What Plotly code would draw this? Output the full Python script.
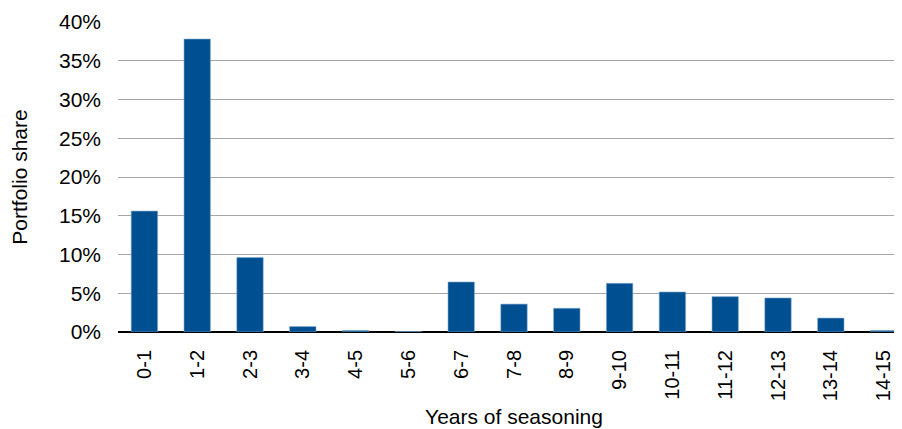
import plotly.graph_objects as go

categories = ["0-1", "1-2", "2-3", "3-4", "4-5", "5-6", "6-7", "7-8", "8-9",
              "9-10", "10-11", "11-12", "12-13", "13-14", "14-15"]
share = [0.156, 0.378, 0.096, 0.007, 0.002, 0.0005, 0.0645, 0.036, 0.0306,
         0.0628, 0.0516, 0.0456, 0.0439, 0.018, 0.002]
y_ticks = [0, 0.05, 0.10, 0.15, 0.20, 0.25, 0.30, 0.35, 0.40]

fig = go.Figure(go.Bar(
    x=categories, y=share,
    marker=dict(color="#004f91", line=dict(color="#7fa7cf", width=0.6)),
))

font = dict(family="Liberation Sans, Arial, sans-serif", size=21, color="#000000")
fig.update_layout(
    width=902, height=429,
    margin=dict(l=110, r=0, t=14, b=105),
    paper_bgcolor="white", plot_bgcolor="white",
    bargap=0.5, showlegend=False,
    font=font,
)
fig.update_xaxes(
    type="category",
    tickangle=-90, tickfont=dict(size=20),
    title=dict(text="Years of seasoning", font=dict(size=21), standoff=9),
    showgrid=False, ticks="", showline=False,
    ticklabelstandoff=13, automargin=False,
)
fig.update_yaxes(
    range=[0, 0.40], tickvals=y_ticks, tickformat=".0%",
    tickfont=dict(size=21),
    title=dict(text="Portfolio share", font=dict(size=21), standoff=30),
    showgrid=True, gridcolor="#a6a6a6", gridwidth=1,
    zeroline=True, zerolinecolor="#000000", zerolinewidth=2,
    ticks="", ticklen=0, ticklabelstandoff=16, automargin=False,
)

fig.write_html("out.html")
